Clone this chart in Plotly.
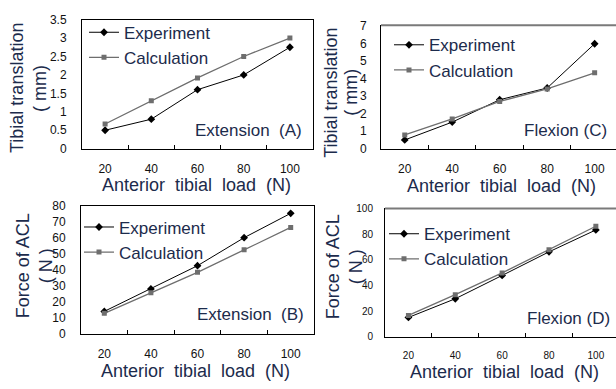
import plotly.graph_objects as go

W, H = 616, 389

loads = ["20", "40", "60", "80", "100"]

ext_trans_exp = [0.5, 0.8, 1.6, 2.0, 2.75]
ext_trans_calc = [0.67, 1.3, 1.92, 2.5, 3.0]
flex_trans_exp = [0.5, 1.52, 2.8, 3.47, 6.0]
flex_trans_calc = [0.79, 1.7, 2.7, 3.42, 4.34]
ext_force_exp = [14, 28, 42.5, 60, 75.2]
ext_force_calc = [12.8, 25.6, 38.4, 52.4, 66.4]
flex_force_exp = [15, 29.6, 47.8, 66.2, 83.3]
flex_force_calc = [16.6, 32.8, 49.8, 67.8, 86.2]

ticks_a = [0, 0.5, 1, 1.5, 2, 2.5, 3, 3.5]
ticks_c = [0, 1, 2, 3, 4, 5, 6, 7]
ticks_b = [0, 10, 20, 30, 40, 50, 60, 70, 80]
ticks_d = [0, 20, 40, 60, 80, 100]

FONT = "Liberation Sans, Arial, sans-serif"
TXT = "#1c2b4c"
EXP_C = "#000000"
CALC_C = "#6e6e6e"

def fx(px):
    return px / W

def fy(py):
    return 1 - py / H

panels = [
    dict(ax="", dx=(82, 313), dy=(13, 147), xr=4.5, tv=ticks_a, ytop=3.5,
         exp=ext_trans_exp, calc=ext_trans_calc, tick=12, ytick=12, ystand=12, full=True),
    dict(ax="2", dx=(381, 616), dy=(19, 147), xr=4.45, tv=ticks_c, ytop=7.05,
         exp=flex_trans_exp, calc=flex_trans_calc, tick=12, ytick=12, ystand=11, full=False),
    dict(ax="3", dx=(81, 314), dy=(206, 339), xr=4.5, tv=ticks_b, ytop=80,
         exp=ext_force_exp, calc=ext_force_calc, tick=12, ytick=12, ystand=12, full=True),
    dict(ax="4", dx=(385, 616), dy=(209, 342), xr=4.43, tv=ticks_d, ytop=100,
         exp=flex_force_exp, calc=flex_force_calc, tick=10, ytick=10, ystand=9, full=False),
]

legend_pos = [(84, 8), (389, 21), (79, 210), (384, 217)]

fig = go.Figure()
layout = dict(width=W, height=H, autosize=False,
              margin=dict(l=0, r=0, t=0, b=0),
              paper_bgcolor="white", plot_bgcolor="white",
              font=dict(family=FONT, color=TXT), showlegend=True)
shapes = []

for i, p in enumerate(panels):
    ax = p["ax"]
    leg = "legend" if i == 0 else f"legend{i+1}"
    fig.add_trace(go.Scatter(x=loads, y=p["exp"], name="Experiment",
                             mode="lines+markers", xaxis="x" + ax, yaxis="y" + ax,
                             line=dict(color=EXP_C, width=1),
                             marker=dict(symbol="diamond", size=6, color=EXP_C),
                             legend=leg))
    fig.add_trace(go.Scatter(x=loads, y=p["calc"], name="Calculation",
                             mode="lines+markers", xaxis="x" + ax, yaxis="y" + ax,
                             line=dict(color=CALC_C, width=1.3),
                             marker=dict(symbol="square", size=5, color=CALC_C),
                             legend=leg))
    layout["xaxis" + ax] = dict(
        domain=[fx(p["dx"][0]), fx(p["dx"][1])], anchor="y" + ax,
        type="category", range=[-0.5, p["xr"]], tickson="boundaries",
        ticks="inside", ticklen=4, tickcolor="black",
        showline=True, linecolor="black", linewidth=1, showgrid=False,
        zeroline=False, tickfont=dict(size=p["tick"], color="#111"),
        ticklabelstandoff=9, mirror=p["full"])
    layout["yaxis" + ax] = dict(
        domain=[fy(p["dy"][1]), fy(p["dy"][0])], anchor="x" + ax,
        range=[0, p["ytop"] * 1.0005], tickmode="array", tickvals=p["tv"],
        ticktext=[str(v) for v in p["tv"]], ticklabeloverflow="allow",
        showline=True, linecolor="black",
        linewidth=1, showgrid=False, zeroline=False, ticks="",
        tickfont=dict(size=p["ytick"], color="#111"),
        ticklabelstandoff=p["ystand"], mirror=p["full"])
    if not p["full"]:
        shapes.append(dict(type="line", xref=f"x{ax} domain", yref=f"y{ax} domain",
                           x0=0, x1=1, y0=1, y1=1,
                           line=dict(color="#7a7a7a", width=2)))
    lx, ly = legend_pos[i]
    layout[leg] = dict(x=fx(lx), y=fy(ly), xanchor="left", yanchor="top",
                       bgcolor="rgba(0,0,0,0)", itemwidth=30,
                       font=dict(size=17, color=TXT, family=FONT),
                       tracegroupgap=0)

NB = "\u00a0"
xtitle = f"Anterior{NB}{NB}tibial{NB}{NB}load{NB}{NB}(N)"
annos = []
def ann(text, x, y, size=18, angle=0):
    annos.append(dict(text=text, x=fx(x), y=fy(y), xref="paper", yref="paper",
                      showarrow=False, textangle=angle, xanchor="center",
                      yanchor="middle", borderpad=0,
                      font=dict(size=size, color=TXT, family=FONT)))

ann(xtitle, 196, 185)
ann(xtitle, 501, 186)
ann(xtitle, 195, 378)
ann(xtitle, 504, 379)

ann("Tibial translation", 17, 84, angle=-90)
ann(f"({NB}mm)", 40, 84, angle=-90)
ann("Tibial translation", 331, 89, angle=-90)
ann(f"({NB}mm)", 351, 89, angle=-90)
ann("Force of ACL", 23, 269, angle=-90)
ann(f"({NB}N{NB})", 46, 269, angle=-90)
ann("Force of ACL", 333, 270, angle=-90)
ann(f"({NB}N{NB})", 356, 270, angle=-90)

ann(f"Extension{NB}{NB}(A)", 248, 128, size=17)
ann("Flexion (C)", 565, 128, size=17)
ann(f"Extension{NB}{NB}(B)", 250, 319, size=17)
ann("Flexion (D)", 568, 323, size=17)

layout["annotations"] = annos
layout["shapes"] = shapes
fig.update_layout(**layout)
fig.write_html("out.html", config={"displayModeBar": False},
               post_script="document.body.style.margin='0';document.body.style.overflow='hidden';")
